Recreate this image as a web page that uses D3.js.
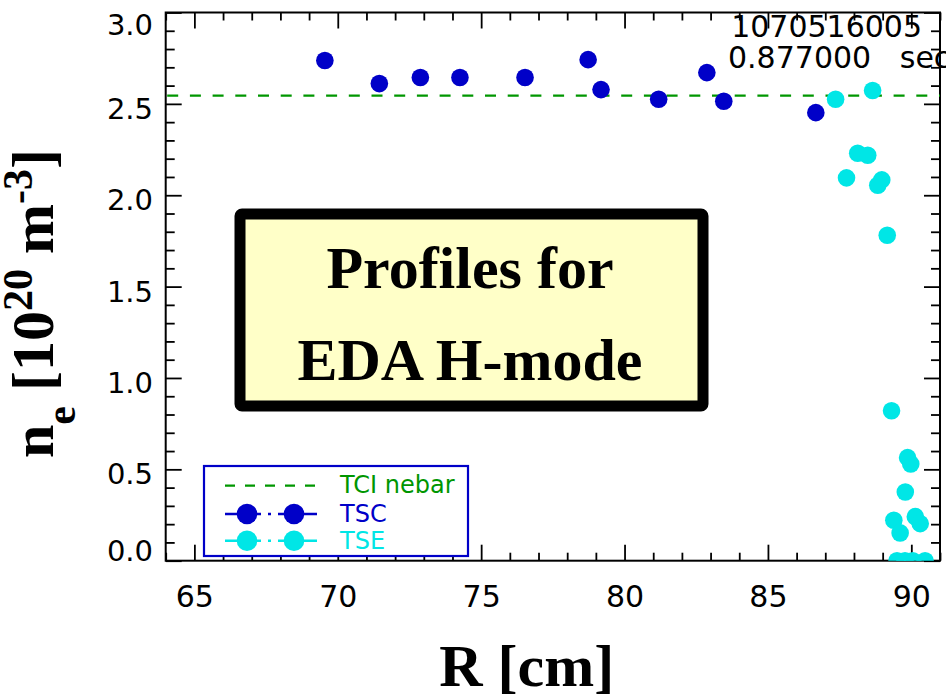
<!DOCTYPE html>
<html><head><meta charset="utf-8">
<script src="https://cdn.jsdelivr.net/npm/d3@7"></script>
<style>body{margin:0;background:#fff} svg{display:block}</style>
</head><body>
<svg id="chart" width="946" height="696"></svg>
<script>
// ---- data ----
const tscR  = [69.55, 71.45, 72.88, 74.26, 76.53, 78.73, 79.18, 81.19, 82.87, 83.46, 86.67];
const tscNe = [2.737, 2.611, 2.644, 2.644, 2.644, 2.742, 2.578, 2.525, 2.671, 2.514, 2.452];
const tseR  = [87.36, 88.65, 88.13, 88.48, 87.74, 88.97, 88.83, 89.16, 89.31, 89.87, 89.98, 89.79, 89.39, 89.61, 90.14, 90.31, 89.50, 89.78, 90.05, 90.48];
const tseNe = [2.525, 2.573, 2.230, 2.219, 2.095, 2.084, 2.055, 1.781, 0.821, 0.564, 0.529, 0.376, 0.221, 0.152, 0.241, 0.203, 0.0, 0.0, 0.0, 0.0];
const nebar = 2.545;
const xTickValues = [65, 70, 75, 80, 85, 90];
const xTickLabels = ["65", "70", "75", "80", "85", "90"];
const yTickValues = [0, 0.5, 1.0, 1.5, 2.0, 2.5, 3.0];
const yTickLabels = ["0.0", "0.5", "1.0", "1.5", "2.0", "2.5", "3.0"];
const legendLabels = ["TCI nebar", "TSC", "TSE"];
const shotText = "1070516005";
const timeText = "0.877000   sec";
const boxLines = ["Profiles for", "EDA H-mode"];

// ---- styles ----
const cTSC = "#0000c8", cTSE = "#00e6e6", cNebar = "#009600";
const tickFont = "'DejaVu Sans', sans-serif";
const serif = "'Liberation Serif', 'Times New Roman', serif";

const svg = d3.select("#chart");
const x = d3.scaleLinear().domain([64, 91]).range([165.7, 940]);
const y = d3.scaleLinear().domain([0, 3]).range([560.7, 12.5]);
const [X0, X1] = x.range(), [Y1, Y0] = y.range();

svg.append("defs").append("clipPath").attr("id", "clip")
  .append("rect").attr("x", X0).attr("y", Y0).attr("width", X1 - X0).attr("height", Y1 - Y0);

const xMinor = x.ticks(27).filter(v => !xTickValues.includes(v));
const yMinor = y.ticks(30).filter(v => !yTickValues.some(t => Math.abs(t - v) < 1e-6));

function styleAxis(g) {
  g.select(".domain").remove();
  g.selectAll(".tick line").attr("stroke", "#000").attr("stroke-width", 1.8);
}

// bottom
svg.append("g").attr("transform", `translate(0,${Y1})`)
  .call(d3.axisBottom(x).tickValues(xMinor).tickSize(-8).tickFormat("")).call(styleAxis);
const gx = svg.append("g").attr("transform", `translate(0,${Y1})`)
  .call(d3.axisBottom(x).tickValues(xTickValues).tickSize(-16).tickPadding(36)
    .tickFormat((d, i) => xTickLabels[i])).call(styleAxis);
gx.selectAll("text").attr("font-family", tickFont).attr("font-size", 30)
  .attr("fill", "#000").attr("dy", "0.36em");
// top
svg.append("g").attr("transform", `translate(0,${Y0})`)
  .call(d3.axisTop(x).tickValues(xMinor).tickSize(-8).tickFormat("")).call(styleAxis);
svg.append("g").attr("transform", `translate(0,${Y0})`)
  .call(d3.axisTop(x).tickValues(xTickValues).tickSize(-16).tickFormat("")).call(styleAxis);
// left
svg.append("g").attr("transform", `translate(${X0},0)`)
  .call(d3.axisLeft(y).tickValues(yMinor).tickSize(-9).tickFormat("")).call(styleAxis);
const gy = svg.append("g").attr("transform", `translate(${X0},0)`)
  .call(d3.axisLeft(y).tickValues(yTickValues).tickSize(-16).tickPadding(12.7)
    .tickFormat((d, i) => yTickLabels[i])).call(styleAxis);
gy.selectAll("text").attr("font-family", tickFont).attr("font-size", 29).attr("fill", "#000")
  .attr("dy", d => d === 0 ? "-0.0em" : (d === 3 ? "0.75em" : "0.5em"));
// right
svg.append("g").attr("transform", `translate(${X1},0)`)
  .call(d3.axisRight(y).tickValues(yMinor).tickSize(-9).tickFormat("")).call(styleAxis);
svg.append("g").attr("transform", `translate(${X1},0)`)
  .call(d3.axisRight(y).tickValues(yTickValues).tickSize(-16).tickFormat("")).call(styleAxis);

// frame
svg.append("rect").attr("x", X0).attr("y", Y0).attr("width", X1 - X0).attr("height", Y1 - Y0)
  .attr("fill", "none").attr("stroke", "#000").attr("stroke-width", 2);

// data layer
const plot = svg.append("g").attr("clip-path", "url(#clip)");
plot.append("line").attr("x1", X0 + 1.5).attr("x2", X1).attr("y1", y(nebar)).attr("y2", y(nebar))
  .attr("stroke", cNebar).attr("stroke-width", 2.3).attr("stroke-dasharray", "11,11.7");
plot.selectAll("circle.tsc").data(tscR.map((r, i) => [r, tscNe[i]])).join("circle")
  .attr("class", "tsc").attr("cx", d => x(d[0])).attr("cy", d => y(d[1])).attr("r", 8.8).attr("fill", cTSC);
plot.selectAll("circle.tse").data(tseR.map((r, i) => [r, tseNe[i]])).join("circle")
  .attr("class", "tse").attr("cx", d => x(d[0])).attr("cy", d => y(d[1])).attr("r", 8.8).attr("fill", cTSE);

// shot / time
svg.append("text").attr("x", 922).attr("y", 37.3).attr("text-anchor", "end")
  .attr("font-family", tickFont).attr("font-size", 30).text(shotText);
svg.append("text").attr("x", 728).attr("y", 68.3).attr("xml:space", "preserve").style("white-space", "pre")
  .attr("font-family", tickFont).attr("font-size", 30).text(timeText);

// legend
const lg = svg.append("g");
lg.append("rect").attr("x", 204).attr("y", 466).attr("width", 264).attr("height", 90)
  .attr("fill", "#fff").attr("stroke", cTSC).attr("stroke-width", 2.2);
const legY = [485.7, 514, 540.7];
lg.append("line").attr("x1", 225).attr("x2", 320).attr("y1", legY[0]).attr("y2", legY[0])
  .attr("stroke", cNebar).attr("stroke-width", 2.3).attr("stroke-dasharray", "10,10");
[[cTSC, legY[1]], [cTSE, legY[2]]].forEach(([c, yy]) => {
  lg.append("line").attr("x1", 225).attr("x2", 317).attr("y1", yy).attr("y2", yy)
    .attr("stroke", c).attr("stroke-width", 2.5).attr("stroke-dasharray", "36,7,3,7,60");
  [247, 294].forEach(cx => lg.append("circle").attr("cx", cx).attr("cy", yy).attr("r", 10.3).attr("fill", c));
});
const legColors = [cNebar, cTSC, cTSE];
const legBase = [493, 521.7, 549.3];
legendLabels.forEach((t, i) => lg.append("text").attr("x", 340).attr("y", legBase[i])
  .attr("font-family", tickFont).attr("font-size", 24).attr("fill", legColors[i]).text(t));

// annotation box
svg.append("rect").attr("x", 240).attr("y", 214).attr("width", 463).attr("height", 192).attr("rx", 2)
  .attr("fill", "#ffffc8").attr("stroke", "#000").attr("stroke-width", 11);
const boxBase = [288.3, 380];
boxLines.forEach((t, i) => svg.append("text").attr("x", 470).attr("y", boxBase[i])
  .attr("text-anchor", "middle").attr("font-family", serif).attr("font-weight", "bold")
  .attr("font-size", 60).text(t));

// axis titles
svg.append("text").attr("x", 526.7).attr("y", 685.5).attr("text-anchor", "middle")
  .attr("font-family", serif).attr("font-weight", "bold").attr("font-size", 60).text("R [cm]");
const yl = svg.append("text").attr("transform", "translate(53,458) rotate(-90)")
  .attr("text-anchor", "start").attr("font-family", serif).attr("font-weight", "bold").attr("font-size", 60);
yl.append("tspan").text("n");
yl.append("tspan").attr("font-size", 42).attr("dy", 22).text("e");
yl.append("tspan").attr("dy", -22).text(" [10");
yl.append("tspan").attr("font-size", 42).attr("dy", -21).text("20");
yl.append("tspan").attr("dy", 21).text(" m");
yl.append("tspan").attr("font-size", 42).attr("dy", -21).text("-3");
yl.append("tspan").attr("dy", 21).text("]");
</script>
</body></html>
